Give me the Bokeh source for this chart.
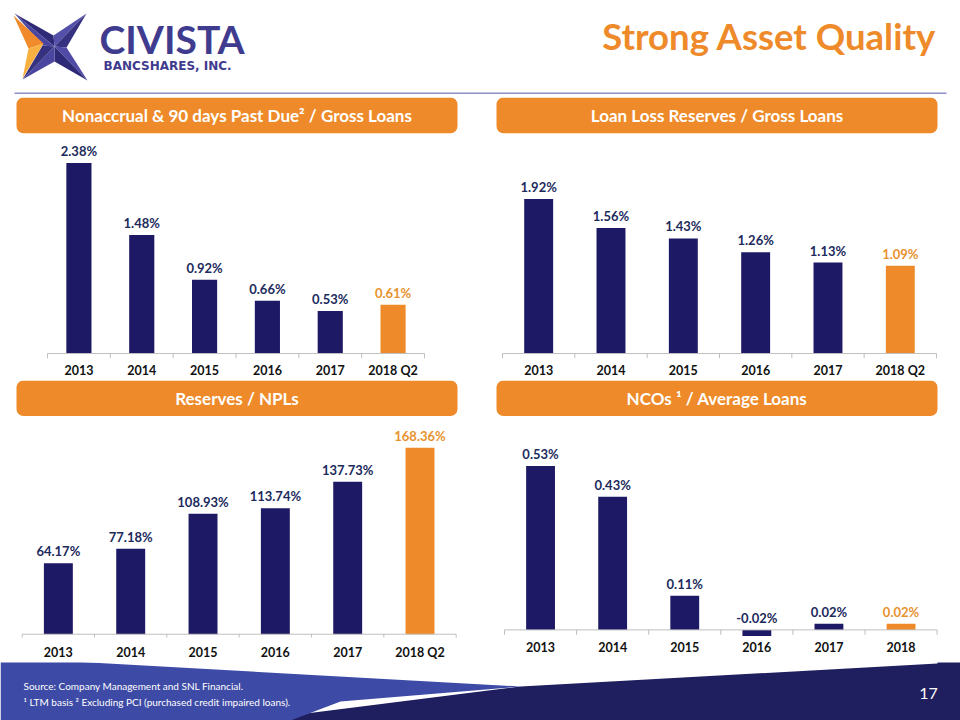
from bokeh.plotting import figure
from bokeh.models import Range1d, FixedTicker, ColumnDataSource
from bokeh.layouts import column, row
from bokeh.embed import file_html
from bokeh.resources import INLINE
from bokeh.core.properties import value

# ---------------- data ----------------
categories_q2 = ["2013", "2014", "2015", "2016", "2017", "2018 Q2"]
categories_yr = ["2013", "2014", "2015", "2016", "2017", "2018"]
nonaccrual_pct = [2.38, 1.48, 0.92, 0.66, 0.53, 0.61]
llr_pct = [1.92, 1.56, 1.43, 1.26, 1.13, 1.09]
reserves_npl_pct = [64.17, 77.18, 108.93, 113.74, 137.73, 168.36]
nco_pct = [0.53, 0.43, 0.11, -0.02, 0.02, 0.02]
panel_titles = [
    "Nonaccrual & 90 days Past Due\u00b2 / Gross Loans",
    "Loan Loss Reserves / Gross Loans",
    "Reserves / NPLs",
    "NCOs \u00b9 / Average Loans",
]
slide_title = "Strong Asset Quality"
footnote_1 = "Source: Company Management and SNL Financial."
footnote_2 = "\u00b9  LTM basis    \u00b2 Excluding PCI (purchased credit impaired loans)."
page_number = "17"

# ---------------- styles ----------------
NAVY = "#1E1964"
ORANGE = "#EE8A29"
LABEL_NAVY = "#1C2A5C"
LABEL_ORANGE = "#E8922E"
AXIS_GRAY = "#BFBFBF"
FONT = value("Lato")


def base_fig(w, h, xr, yr, **kw):
    p = figure(width=w, height=h, x_range=xr, y_range=yr, output_backend="svg",
               toolbar_location=None, x_axis_location=kw.pop("x_axis_location", None),
               y_axis_location=None, min_border_left=0, min_border_right=0,
               min_border_top=0, min_border_bottom=kw.pop("min_border_bottom", 0), **kw)
    p.outline_line_color = None
    p.grid.visible = False
    p.background_fill_color = "white"
    p.border_fill_color = "white"
    return p


def chart(title, cats, vals, left_px, cat_w, height, bottom_border, baseline_px,
          px_per_unit, standoff):
    """baseline_px: distance of the zero line above the frame bottom."""
    n = len(cats)
    frame_h = height - bottom_border
    y_start = -baseline_px / px_per_unit
    y_end = y_start + frame_h / px_per_unit
    xs = -0.5 - left_px / cat_w
    p = base_fig(480, height, Range1d(xs, xs + 480 / cat_w), Range1d(y_start, y_end),
                 x_axis_location="below", min_border_bottom=bottom_border)
    p.extra_x_ranges = {"px": Range1d(0, 480)}
    p.extra_y_ranges = {"px": Range1d(frame_h, 0)}

    # header bar
    p.quad(left=[16], right=[457], top=[0], bottom=[36], x_range_name="px", y_range_name="px",
           fill_color=ORANGE, line_color=None, border_radius=7)
    p.text(x=[236.5], y=[18.5], text=[title], x_range_name="px", y_range_name="px",
           text_color="white", text_font=FONT, text_font_style="bold", text_font_size="17px",
           text_align="center", text_baseline="middle")

    idx = list(range(n))
    colors = [NAVY] * (n - 1) + [ORANGE]
    lcolors = [LABEL_NAVY] * (n - 1) + [LABEL_ORANGE]
    src = ColumnDataSource(dict(x=idx, top=vals, color=colors, lc=lcolors,
                                label=[f"{v:.2f}%" for v in vals],
                                ly=[max(v, 0) for v in vals]))
    p.vbar(x="x", top="top", bottom=0, width=0.4, fill_color="color", line_color=None, source=src)
    p.text(x="x", y="ly", text="label", text_color="lc", text_align="center",
           text_baseline="middle", y_offset=-12, text_font=FONT, text_font_size="13px",
           text_font_style="bold", source=src)

    # category axis line and boundary ticks on the zero line
    bounds = [i - 0.5 for i in range(n + 1)]
    p.segment(x0=[bounds[0]], y0=[0], x1=[bounds[-1]], y1=[0], line_color=AXIS_GRAY, line_width=1)
    tick_len = 5 / px_per_unit
    p.segment(x0=bounds, y0=[0] * len(bounds), x1=bounds, y1=[-tick_len] * len(bounds),
              line_color=AXIS_GRAY, line_width=1)

    ax = p.xaxis[0]
    ax.ticker = FixedTicker(ticks=idx, minor_ticks=[])
    ax.major_label_overrides = {i: c for i, c in enumerate(cats)}
    ax.axis_line_color = None
    ax.major_tick_line_color = None
    ax.minor_tick_line_color = None
    ax.major_tick_in = 0
    ax.major_tick_out = 0
    ax.minor_tick_in = 0
    ax.minor_tick_out = 0
    ax.major_label_standoff = standoff
    ax.major_label_text_font = "Lato"
    ax.major_label_text_font_style = "bold"
    ax.major_label_text_font_size = "12.5px"
    ax.major_label_text_color = "#111111"
    return p


# top row: figures 97..380, frame 97..360, zero line at 355
c1 = chart(panel_titles[0], categories_q2, nonaccrual_pct, 47, 62.83, 283, 20, 5, 80.7, 4)
c2 = chart(panel_titles[1], categories_q2, llr_pct, 22, 72.33, 283, 20, 5, 81.1, 4)
# bottom row: figures 380..662, frame 380..640
c3 = chart(panel_titles[2], categories_q2, reserves_npl_pct, 21.7, 72.33, 282, 22, 3.3, 1.12, 7)
c4 = chart(panel_titles[3], categories_yr, nco_pct, 24, 72.1, 282, 22, 7.7, 313, 4)

# ---------------- top banner ----------------
top = base_fig(960, 97, Range1d(0, 960), Range1d(97, 0))
C = (54, 46)
TL, TR, BR, BL = (14, 13), (86, 13), (87, 80), (22, 79)
NT, NR, NB, NL = (53, 35), (66, 47), (54, 61), (42, 45)
facets = [
    ((TL, NT, C), "#2E2A78"), ((TL, C, NL), "#4A46A0"),
    ((TR, NT, C), "#5551AA"), ((TR, C, NR), "#36327F"),
    ((BR, NR, C), "#4E4AA5"), ((BR, C, NB), "#2E2A78"),
    ((BL, NB, C), "#4A46A0"), ((BL, C, NL), "#36327F"),
    (((13, 15), (43, 43), (28, 48)), "#F08A2A"),
    (((28, 48), (43, 43), (22, 78)), "#F8B040"),
]
top.patches(xs=[[pt[0] for pt in f] for f, _ in facets], ys=[[pt[1] for pt in f] for f, _ in facets],
            fill_color=[c for _, c in facets], line_color=None)
top.text(x=[99], y=[38], text=["CIVISTA"], text_font=FONT, text_font_style="bold",
         text_font_size="39px", text_color="#3F3B8E", text_baseline="alphabetic")
top.text(x=[103], y=[65.5], text=["BANCSHARES, INC."], text_font=value("DejaVu Sans"),
         text_font_style="bold", text_font_size="12px", text_color="#3F3B8E",
         text_baseline="alphabetic")
top.text(x=[936], y=[35], text=[slide_title], text_font=FONT, text_font_style="bold",
         text_font_size="36.5px", text_color=ORANGE, text_align="right", text_baseline="alphabetic")
top.segment(x0=[14], y0=[92.7], x1=[946], y1=[92.7], line_color="#8E92C6", line_width=1.5)

# ---------------- footer ----------------
foot = base_fig(960, 58, Range1d(0, 960), Range1d(720, 662))
foot.patch(x=[250, 520, 937, 937, 960, 960], y=[720, 686, 663, 658, 657, 720],
           fill_color="#1F1E5E", line_color=None)
foot.patch(x=[0, 520, 340, 290, 0], y=[657, 686, 701, 720, 720],
           fill_color="#3E4BA6", line_color=None)
foot.text(x=[23, 23], y=[685, 701.5], text=[footnote_1, footnote_2], text_font=FONT,
          text_font_size="10px", text_color="white", text_baseline="middle")
foot.text(x=[928], y=[693], text=[page_number], text_font=FONT, text_font_size="16px",
          text_color="white", text_align="center", text_baseline="middle")

layout = column(top, row(c1, c2), row(c3, c4), foot)
open("out.html", "w").write(file_html(layout, INLINE))
